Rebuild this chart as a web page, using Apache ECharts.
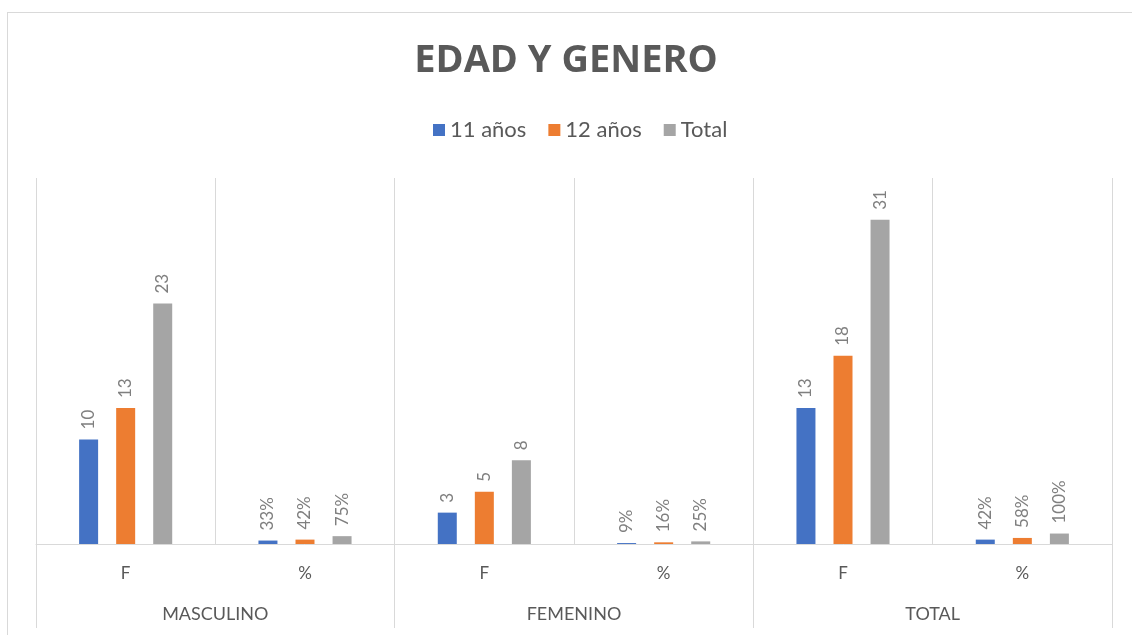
<!DOCTYPE html>
<html>
<head>
<meta charset="utf-8">
<script src="https://cdn.jsdelivr.net/npm/echarts@6/dist/echarts.min.js"></script>
<style>
  html, body { margin: 0; padding: 0; background: #fff; }
  #frame { position: absolute; left: 7px; top: 12px; width: 1140px; height: 640px; border: 1px solid #d9d9d9; }
  #chart { position: absolute; left: 0; top: 0; width: 1132px; height: 635px; }
</style>
</head>
<body>
<div id="frame"></div>
<div id="chart"></div>
<script>
// datos de la tabla: F = frecuencia, % = porcentaje
const groups = ['MASCULINO', 'FEMENINO', 'TOTAL']
const categories = ['F', '%', 'F', '%', 'F', '%']
const seriesNames = ['11 años', '12 años', 'Total']
const anos11 = [10, 0.33, 3, 0.09, 13, 0.42]
const anos12 = [13, 0.42, 5, 0.16, 18, 0.58]
const totales = [23, 0.75, 8, 0.25, 31, 1.00]
const colors = ['#4472C4', '#ED7D31', '#A5A5A5']

const FONT = 'Lato, "Noto Sans", sans-serif'
const GRID_LINE = '#d9d9d9'

const chart = echarts.init(document.getElementById('chart'))

const labelFormatter = (p) => {
  // las categorias impares son porcentajes
  if (p.dataIndex % 2 === 1) return Math.round(p.value * 100) + '%'
  return String(p.value)
}

const makeSeries = (name, data, i) => ({
  name: name,
  type: 'bar',
  data: data,
  xAxisIndex: 0,
  barWidth: 19,
  barGap: '95%',
  itemStyle: { color: colors[i] },
  label: {
    show: true,
    position: 'top',
    rotate: 90,
    align: 'left',
    verticalAlign: 'middle',
    distance: 10,
    color: '#7f7f7f',
    fontSize: 17,
    fontFamily: FONT,
    formatter: labelFormatter
  }
})

chart.setOption({
  animation: false,
  title: {
    text: 'EDAD Y GENERO',
    left: 'center',
    top: 37,
    textStyle: { color: '#595959', fontSize: 38, fontWeight: 'bold', fontFamily: '"Open Sans", Lato, sans-serif' }
  },
  legend: {
    top: 114,
    left: 428,
    icon: 'rect',
    itemWidth: 12,
    itemHeight: 12,
    itemGap: 22,
    textStyle: { color: '#595959', fontSize: 22, fontFamily: FONT }
  },
  grid: { left: 36, right: 20, top: 178, bottom: 91, containLabel: false },
  xAxis: [
    {
      type: 'category',
      data: categories,
      position: 'bottom',
      axisLine: { show: true, lineStyle: { color: GRID_LINE, width: 1 } },
      axisTick: { show: false },
      splitLine: { show: true, lineStyle: { color: GRID_LINE, width: 1 } },
      axisLabel: { color: '#595959', fontSize: 17, fontFamily: FONT, margin: 21 }
    },
    {
      type: 'category',
      data: groups,
      position: 'bottom',
      axisLine: { show: false },
      axisTick: { show: true, length: 84, lineStyle: { color: GRID_LINE, width: 1 } },
      splitLine: { show: false },
      axisLabel: { color: '#595959', fontSize: 18, fontFamily: FONT, margin: 61 }
    }
  ],
  yAxis: {
    type: 'value',
    min: 0,
    max: 35,
    show: false,
    splitLine: { show: false }
  },
  series: [
    makeSeries(seriesNames[0], anos11, 0),
    makeSeries(seriesNames[1], anos12, 1),
    makeSeries(seriesNames[2], totales, 2)
  ]
})

window.addEventListener('resize', () => chart.resize())
</script>
</body>
</html>
